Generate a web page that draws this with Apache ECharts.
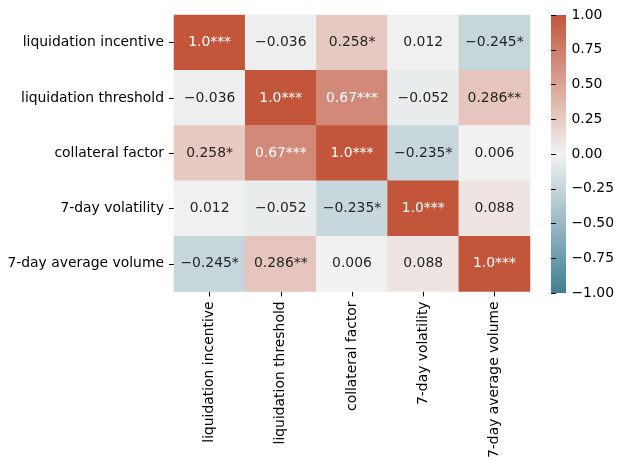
<!DOCTYPE html>
<html>
<head>
<meta charset="utf-8">
<script src="https://cdn.jsdelivr.net/npm/echarts@6/dist/echarts.min.js"></script>
<style>
  html, body { margin: 0; padding: 0; background: #fff; }
  #chart { width: 617px; height: 461px; }
</style>
</head>
<body>
<div id="chart"></div>
<script>
  // row / column labels (same order top->bottom and left->right)
  const labels = ['liquidation incentive', 'liquidation threshold', 'collateral factor', '7-day volatility', '7-day average volume']
  // correlation matrix
  const corr = [
    [1.0, -0.036, 0.258, 0.012, -0.245],
    [-0.036, 1.0, 0.67, -0.052, 0.286],
    [0.258, 0.67, 1.0, -0.235, 0.006],
    [0.012, -0.052, -0.235, 1.0, 0.088],
    [-0.245, 0.286, 0.006, 0.088, 1.0]
  ]
  // significance stars
  const stars = [
    ['***', '', '*', '', '*'],
    ['', '***', '***', '', '**'],
    ['*', '***', '***', '*', ''],
    ['', '', '*', '***', ''],
    ['*', '**', '', '', '***']
  ]
  const cbMin = -1, cbMax = 1, cbStep = 0.25

  const FONT = 'DejaVu Sans'
  const FS = 13.9
  const lowColor = '#3f7f93', midColor = '#f2f2f2', highColor = '#c3553a'

  function fmt(v) {
    let s = Number.isInteger(v) ? v.toFixed(1) : String(v)
    return s.replace('-', '\u2212')
  }

  let data = []
  corr.forEach((row, i) => {
    row.forEach((v, j) => {
      data.push({
        value: [j, i, v],
        label: { color: v > 0.5 ? '#ffffff' : '#262626' }
      })
    })
  })

  let chart = echarts.init(document.getElementById('chart'))
  chart.setOption({
    animation: false,
    grid: [
      { left: 174, top: 15, width: 356, height: 278 },
      { left: 551, top: 15, width: 15, height: 278 }
    ],
    xAxis: [{
      type: 'category',
      data: labels,
      position: 'bottom',
      axisLine: { show: false },
      axisTick: { show: true, alignWithLabel: true, length: 5, lineStyle: { color: '#000' } },
      axisLabel: { rotate: 90, margin: 10, color: '#000', fontFamily: FONT, fontSize: FS },
      splitLine: { show: false }
    }, {
      gridIndex: 1, type: 'value', show: false, min: 0, max: 1
    }],
    yAxis: [{
      type: 'category',
      data: labels,
      inverse: true,
      axisLine: { show: false },
      axisTick: { show: true, alignWithLabel: true, length: 5, lineStyle: { color: '#000' } },
      axisLabel: { margin: 10, color: '#000', fontFamily: FONT, fontSize: FS },
      splitLine: { show: false }
    }, {
      gridIndex: 1,
      type: 'value',
      position: 'right',
      min: cbMin, max: cbMax, interval: cbStep,
      axisLine: { show: false },
      axisTick: { show: true, length: 5, lineStyle: { color: '#000' } },
      axisLabel: {
        margin: 7, color: '#000', fontFamily: FONT, fontSize: FS,
        formatter: v => v.toFixed(2).replace('-', '\u2212')
      },
      splitLine: { show: false }
    }],
    visualMap: {
      show: false,
      seriesIndex: 0,
      min: cbMin, max: cbMax,
      dimension: 2,
      inRange: { color: [lowColor, midColor, highColor] }
    },
    graphic: [{
      type: 'rect',
      shape: { x: 551, y: 15, width: 15, height: 278 },
      style: {
        fill: new echarts.graphic.LinearGradient(0, 0, 0, 1, [
          { offset: 0, color: highColor },
          { offset: 0.5, color: midColor },
          { offset: 1, color: lowColor }
        ])
      },
      z: 0
    }],
    series: [{
      type: 'heatmap',
      data: data,
      label: {
        show: true,
        fontFamily: FONT,
        fontSize: FS,
        formatter: p => fmt(p.value[2]) + stars[p.value[1]][p.value[0]]
      },
      itemStyle: { borderWidth: 0 },
      emphasis: { disabled: true }
    }]
  })
</script>
</body>
</html>
